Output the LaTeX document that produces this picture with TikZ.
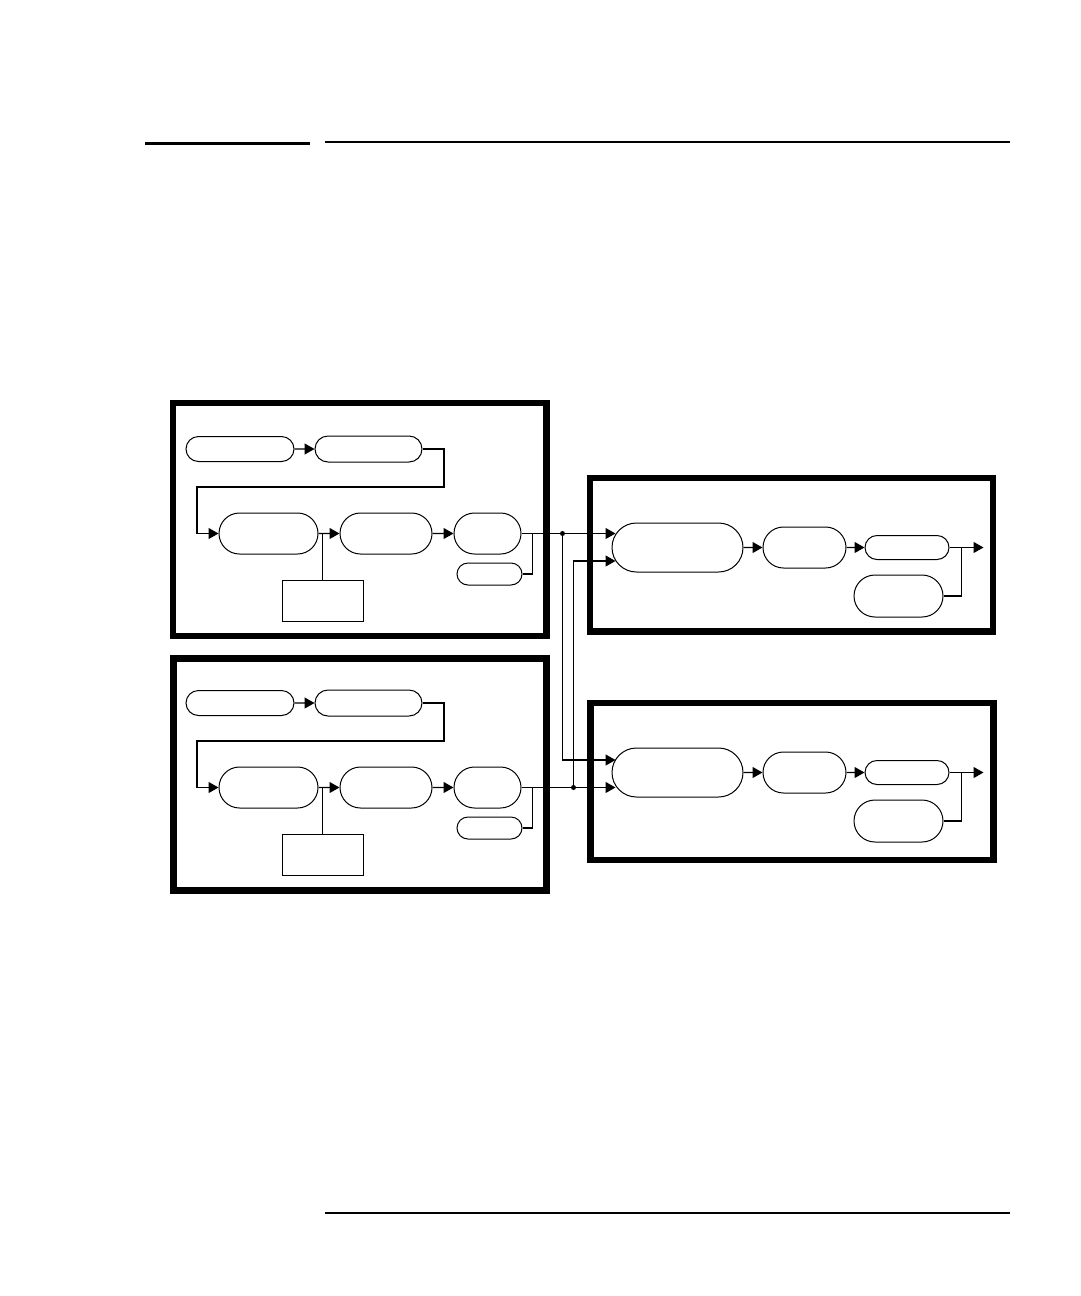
\documentclass[tikz,border=0pt]{standalone}
\usetikzlibrary{shapes.misc,arrows.meta,calc}

\begin{document}
\begin{tikzpicture}[x=1pt,y=-1pt,
    pill/.style 2 args={rounded rectangle,draw,line width=1pt,inner sep=0pt,minimum width=#1,minimum height=#2},
    panel/.style={rectangle,draw,line width=1pt,inner sep=0pt,minimum width=81pt,minimum height=41pt},
    frame/.style={draw,line width=6.5pt},
    wire/.style={line width=1.2pt},
    arrow/.style={wire,-{Triangle[length=10pt,width=11pt]}},
    rule/.style={line width=1.5pt}
]

% Page
\path[fill=white,use as bounding box] (0,0) rectangle (1080,1296);

% Header and footer rules
\draw[line width=3pt] (145,143.5) -- (310,143.5);
\draw[rule] (325,142) -- (1010,142);
\draw[rule] (325,1213) -- (1010,1213);

% Frames
\draw[frame] (173,403) rectangle (546.5,636);
\draw[frame] (173.5,658.5) rectangle (546.5,890.5);
\draw[frame] (590,478) rectangle (993,631.5);
\draw[frame] (590.5,703) rectangle (993.5,860);

% Source panels (top and bottom copies)
\foreach \g/\dy in {a/0,c/254} {
    \node[pill={108pt}{25pt}] (\g1) at (240,449+\dy) {};
    \node[pill={107pt}{26pt}] (\g2) at (368.5,449+\dy) {};
    \node[pill={99pt}{41pt}] (\g3) at (268.5,533.5+\dy) {};
    \node[pill={92pt}{41pt}] (\g4) at (386,533.5+\dy) {};
    \node[pill={67pt}{41pt}] (\g5) at (487.5,533.5+\dy) {};
    \node[pill={65pt}{22pt}] (\g6) at (489.5,574+\dy) {};
    \node[panel] (\g7) at (322.5,600.5+\dy) {};
    \draw[arrow] (\g1) -- (\g2);
    \draw[arrow] (\g2.east) -| (444,487+\dy) -| (197,533.5+\dy) -- (\g3.west);
    \draw[arrow] (\g3) -- (\g4);
    \draw[arrow] (\g4) -- (\g5);
    \draw[wire] (\g7.north) -- (\g7.north |- \g3.east);
    \draw[wire] (\g6.east) -| ($(\g5.east)+(11,0)$);
}

% Target panels (top and bottom copies)
\foreach \g/\dy in {b/0,d/225} {
    \node[pill={131pt}{49pt}] (\g1) at (677.5,547.5+\dy) {};
    \node[pill={83pt}{41pt}] (\g2) at (804.5,547.5+\dy) {};
    \node[pill={84pt}{24pt}] (\g3) at (907,547.5+\dy) {};
    \node[pill={89pt}{42pt}] (\g4) at (898.5,596+\dy) {};
    \coordinate (\g-out) at ($(\g3.east)+(34,0)$);
    \draw[arrow] (\g1) -- (\g2);
    \draw[arrow] (\g2) -- (\g3);
    \draw[arrow] (\g3.east) -- (\g-out);
    \draw[wire] (\g4.east) -| ($(\g3.east)+(12,0)$);
}

% Cross connections
\coordinate (j1) at ($(a5.east)+(41,0)$);
\coordinate (j2) at ($(c5.east)+(52,0)$);
\draw[arrow] (a5.east) -- (j1) -- ([shift={(4,-14)}]b1.west);
\draw[arrow] (j1) |- ([shift={(4,-12.5)}]d1.west);
\draw[arrow] (c5.east) -- (j2) -- ([shift={(4,15)}]d1.west);
\draw[arrow] (j2) |- ([shift={(4,13.5)}]b1.west);
\fill (j1) circle[radius=2.5pt];
\fill (j2) circle[radius=2.5pt];

\end{tikzpicture}
\end{document}
